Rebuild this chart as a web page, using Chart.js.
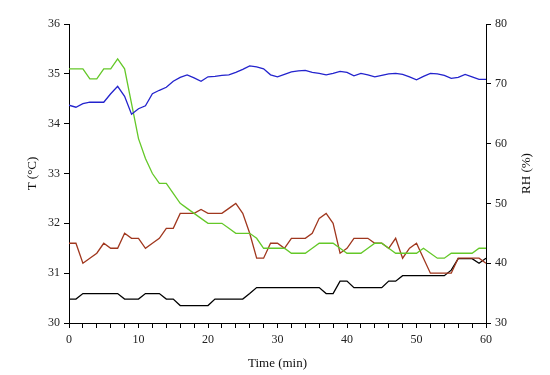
<!DOCTYPE html>
<html>
<head>
<meta charset="utf-8">
<script src="https://cdn.jsdelivr.net/npm/chart.js@4"></script>
<style>
  html, body { margin: 0; padding: 0; background: #fff; }
  #wrap { width: 550px; height: 375px; }
</style>
</head>
<body>
<div id="wrap"><canvas id="chart" width="550" height="375"></canvas></div>
<script>
// minutes 0..60
const minutes = Array.from({ length: 61 }, (_, i) => i);

const blueT = [34.37, 34.33, 34.40, 34.43, 34.43, 34.43, 34.60, 34.75, 34.55, 34.19,
  34.30, 34.36, 34.60, 34.67, 34.73, 34.85, 34.93, 34.98, 34.92, 34.85,
  34.94, 34.95, 34.97, 34.98, 35.03, 35.09, 35.16, 35.14, 35.10, 34.98,
  34.94, 34.99, 35.04, 35.06, 35.07, 35.03, 35.01, 34.98, 35.01, 35.05,
  35.03, 34.96, 35.01, 34.98, 34.94, 34.97, 35.00, 35.01, 34.99, 34.94,
  34.88, 34.95, 35.01, 35.00, 34.97, 34.91, 34.93, 34.99, 34.94, 34.89, 34.89];

const greenT = [35.1, 35.1, 35.1, 34.9, 34.9, 35.1, 35.1, 35.3, 35.1, 34.4,
  33.7, 33.3, 33.0, 32.8, 32.8, 32.6, 32.4, 32.3, 32.2, 32.1,
  32.0, 32.0, 32.0, 31.9, 31.8, 31.8, 31.8, 31.7, 31.5, 31.5,
  31.5, 31.5, 31.4, 31.4, 31.4, 31.5, 31.6, 31.6, 31.6, 31.5,
  31.4, 31.4, 31.4, 31.5, 31.6, 31.6, 31.5, 31.4, 31.4, 31.4,
  31.4, 31.5, 31.4, 31.3, 31.3, 31.4, 31.4, 31.4, 31.4, 31.5, 31.5];

const brownT = [31.6, 31.6, 31.2, 31.3, 31.4, 31.6, 31.5, 31.5, 31.8, 31.7,
  31.7, 31.5, 31.6, 31.7, 31.9, 31.9, 32.2, 32.2, 32.2, 32.28,
  32.2, 32.2, 32.2, 32.3, 32.4, 32.2, 31.8, 31.3, 31.3, 31.6,
  31.6, 31.5, 31.7, 31.7, 31.7, 31.8, 32.1, 32.2, 32.0, 31.4,
  31.5, 31.7, 31.7, 31.7, 31.6, 31.6, 31.5, 31.7, 31.3, 31.5,
  31.6, 31.3, 31.0, 31.0, 31.0, 31.0, 31.3, 31.3, 31.3, 31.3, 31.2];

const blackT = [30.48, 30.48, 30.59, 30.59, 30.59, 30.59, 30.59, 30.59, 30.48, 30.48,
  30.48, 30.59, 30.59, 30.59, 30.48, 30.48, 30.35, 30.35, 30.35, 30.35,
  30.35, 30.48, 30.48, 30.48, 30.48, 30.48, 30.59, 30.71, 30.71, 30.71,
  30.71, 30.71, 30.71, 30.71, 30.71, 30.71, 30.71, 30.59, 30.59, 30.84,
  30.84, 30.71, 30.71, 30.71, 30.71, 30.71, 30.84, 30.84, 30.95, 30.95,
  30.95, 30.95, 30.95, 30.95, 30.95, 31.06, 31.29, 31.29, 31.29, 31.2, 31.3];

const xTicks = [0, 10, 20, 30, 40, 50, 60];
const tTicks = [30, 31, 32, 33, 34, 35, 36];
const rhTicks = [30, 40, 50, 60, 70, 80];

const font = "'Liberation Serif', 'DejaVu Serif', serif";

function line(label, values, color) {
    return {
        label: label,
        data: values.map((v, i) => ({ x: minutes[i], y: v })),
        borderColor: color,
        borderWidth: 1.3,
        pointRadius: 0,
        tension: 0,
        fill: false,
        yAxisID: "y"
    };
}

const axisGrid = {
    drawOnChartArea: false,
    drawTicks: true,
    tickLength: 5,
    color: "#000",
    lineWidth: 1
};
const axisBorder = { display: true, color: "#000", width: 1 };

// right axis title reads bottom-to-top, like the left one
const rhTitle = {
    id: "rhTitle",
    afterDraw(chart) {
        const { ctx, chartArea } = chart;
        ctx.save();
        ctx.translate(527, (chartArea.top + chartArea.bottom) / 2);
        ctx.rotate(-Math.PI / 2);
        ctx.font = "13px " + font;
        ctx.fillStyle = "#111";
        ctx.textAlign = "center";
        ctx.textBaseline = "middle";
        ctx.fillText("RH (%)", 0, 0);
        ctx.restore();
    }
};

new Chart(document.getElementById("chart").getContext("2d"), {
    type: "line",
    data: {
        datasets: [
            line("blue", blueT, "rgb(35,35,205)"),
            line("green", greenT, "rgb(100,200,40)"),
            line("brown", brownT, "rgb(160,55,30)"),
            line("black", blackT, "#000")
        ]
    },
    options: {
        responsive: false,
        animation: false,
        layout: { padding: { top: 24, left: 0, right: 0, bottom: 0 } },
        plugins: { legend: { display: false }, tooltip: { enabled: false } },
        scales: {
            x: {
                type: "linear",
                min: 0,
                max: 60,
                ticks: {
                    stepSize: 2,
                    autoSkip: false,
                    maxRotation: 0,
                    color: "#222",
                    font: { family: font, size: 12 },
                    padding: 5,
                    callback: v => xTicks.includes(v) ? String(v) : ""
                },
                grid: axisGrid,
                border: axisBorder,
                title: {
                    display: true,
                    text: "Time (min)",
                    color: "#111",
                    font: { family: font, size: 13 },
                    padding: { top: 0, bottom: 4 }
                },
                afterFit: s => { s.height = 52; }
            },
            y: {
                position: "left",
                min: 30,
                max: 36,
                ticks: {
                    stepSize: 1,
                    color: "#222",
                    font: { family: font, size: 12 },
                    padding: 4,
                    callback: v => tTicks.includes(v) ? String(v) : ""
                },
                grid: axisGrid,
                border: axisBorder,
                title: {
                    display: true,
                    text: "T (°C)",
                    color: "#111",
                    font: { family: font, size: 13 },
                    padding: { top: 25, bottom: 0 }
                },
                afterFit: s => { s.width = 69; }
            },
            y2: {
                position: "right",
                min: 30,
                max: 80,
                ticks: {
                    stepSize: 10,
                    color: "#222",
                    font: { family: font, size: 12 },
                    padding: 4,
                    callback: v => rhTicks.includes(v) ? String(v) : ""
                },
                grid: axisGrid,
                border: axisBorder,
                title: { display: false },
                afterFit: s => { s.width = 64; }
            }
        }
    },
    plugins: [rhTitle]
});
</script>
</body>
</html>
